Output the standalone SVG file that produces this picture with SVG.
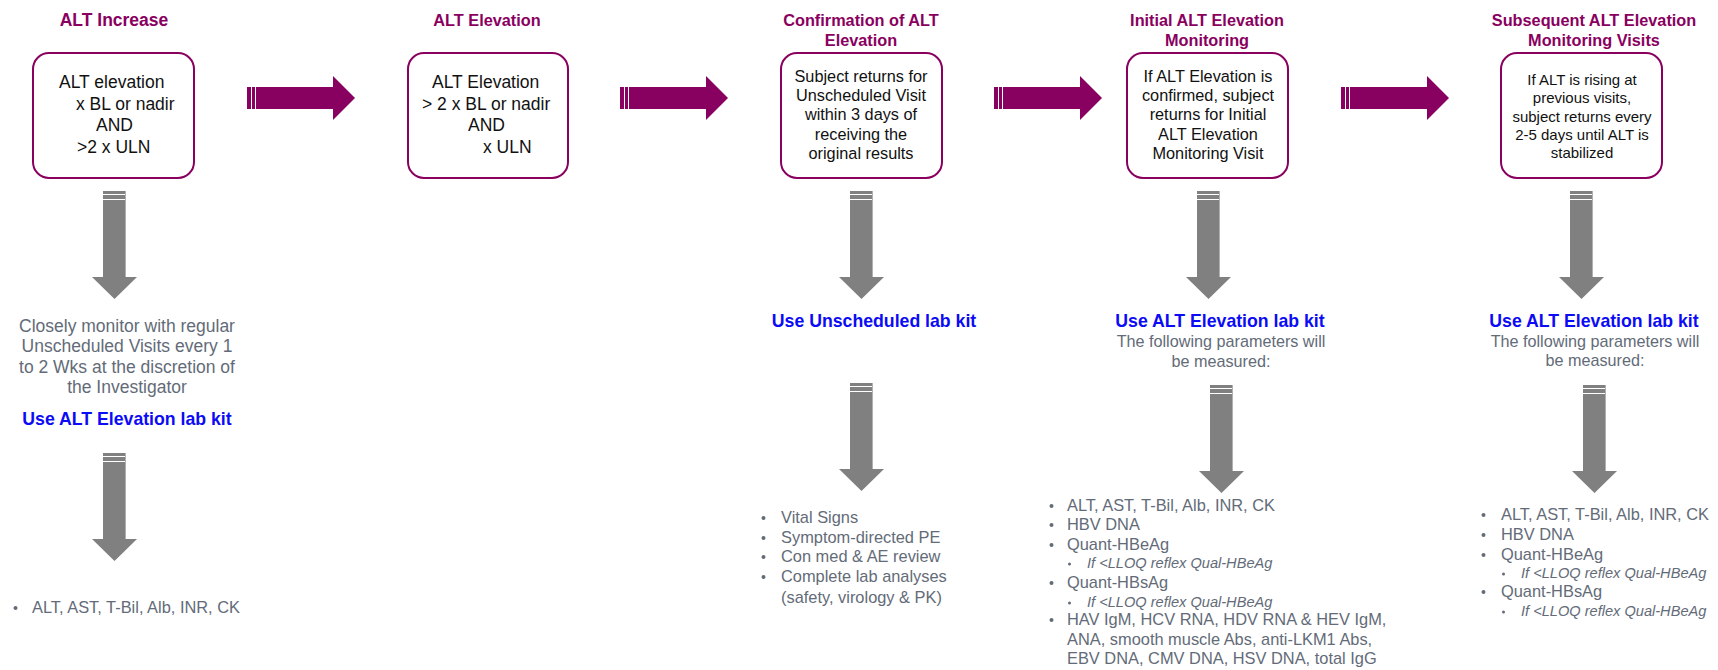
<svg xmlns="http://www.w3.org/2000/svg" width="1718" height="670" viewBox="0 0 1718 670">
<defs>
<style>
text{font-family:"Liberation Sans",Arial,sans-serif}
.title{font-size:16.3px;font-weight:bold;fill:#8a005f;text-anchor:middle}
.box{fill:#fff;stroke:#8a005f;stroke-width:2}
.bt{font-size:17.5px;fill:#111}
.bt3{font-size:16.3px;fill:#111;text-anchor:middle}
.bt5{font-size:15px;fill:#111;text-anchor:middle}
.blue{font-size:17.7px;font-weight:bold;fill:#0b0bf5;text-anchor:middle}
.gray{font-size:17.5px;fill:#636b78;text-anchor:middle}
.gray2{font-size:16.2px;fill:#636b78;text-anchor:middle}
.li{font-size:16.4px;fill:#636b78}
.sub{font-size:14.6px;font-style:italic;fill:#636b78}
.dot{fill:#636b78}
.ra{fill:#880060}
.da{fill:#808080}
.wl{stroke:#fff;stroke-width:1}
</style>
<g id="rarrow">
<polygon class="ra" points="0,11 86,11 86,0 108,22 86,44 86,33 0,33"/>
<line class="wl" x1="4.5" y1="11" x2="4.5" y2="33"/>
<line class="wl" x1="8.5" y1="11" x2="8.5" y2="33"/>
</g>
<g id="darrow">
<polygon class="da" points="-11.5,0 11.5,0 11.5,86 22.5,86 0,108 -22.5,86 -11.5,86"/>
<line class="wl" x1="-11.5" y1="3.5" x2="11.5" y2="3.5"/>
<line class="wl" x1="-11.5" y1="8.5" x2="11.5" y2="8.5"/>
<line x1="11" y1="0" x2="11" y2="86" stroke="#b0b0b0" stroke-width="1"/>
</g>
</defs>
<rect width="1718" height="670" fill="#fff"/>

<g id="connectors">
<use href="#rarrow" x="247" y="76"/>
<use href="#rarrow" x="620" y="76"/>
<use href="#rarrow" x="994" y="76"/>
<use href="#rarrow" x="1341" y="76"/>
<use href="#darrow" x="114.5" y="191"/>
<use href="#darrow" x="114.5" y="453"/>
<use href="#darrow" x="861.5" y="191"/>
<use href="#darrow" x="861.5" y="383"/>
<use href="#darrow" x="1208.5" y="191"/>
<use href="#darrow" x="1221.5" y="385"/>
<use href="#darrow" x="1581.5" y="191"/>
<use href="#darrow" x="1594.5" y="385"/>
</g>

<g id="node-alt-increase">
<text class="title" x="114" y="26" style="font-size:17.5px">ALT Increase</text>
<rect class="box" x="33" y="53" width="161" height="125" rx="16"/>
<text class="bt" x="59" y="88">ALT elevation</text>
<text class="bt" x="76" y="110">x BL or nadir</text>
<text class="bt" x="96" y="131">AND</text>
<text class="bt" x="77" y="153">&gt;2 x ULN</text>
</g>

<g id="node-alt-elevation">
<text class="title" x="487" y="26">ALT Elevation</text>
<rect class="box" x="408" y="53" width="160" height="125" rx="16"/>
<text class="bt" x="432" y="88">ALT Elevation</text>
<text class="bt" x="422" y="110">&gt; 2 x BL or nadir</text>
<text class="bt" x="468" y="131">AND</text>
<text class="bt" x="483" y="153">x ULN</text>
</g>

<g id="node-confirmation">
<text class="title" x="861" y="26">Confirmation of ALT</text>
<text class="title" x="861" y="46">Elevation</text>
<rect class="box" x="781" y="53" width="161" height="125" rx="16"/>
<text class="bt3" x="861" y="82">Subject returns for</text>
<text class="bt3" x="861" y="101">Unscheduled Visit</text>
<text class="bt3" x="861" y="120">within 3 days of</text>
<text class="bt3" x="861" y="140">receiving the</text>
<text class="bt3" x="861" y="159">original results</text>
</g>

<g id="node-initial-monitoring">
<text class="title" x="1207" y="26">Initial ALT Elevation</text>
<text class="title" x="1207" y="46">Monitoring</text>
<rect class="box" x="1127" y="53" width="161" height="125" rx="16"/>
<text class="bt3" x="1208" y="82">If ALT Elevation is</text>
<text class="bt3" x="1208" y="101">confirmed, subject</text>
<text class="bt3" x="1208" y="120">returns for Initial</text>
<text class="bt3" x="1208" y="140">ALT Elevation</text>
<text class="bt3" x="1208" y="159">Monitoring Visit</text>
</g>

<g id="node-subsequent-monitoring">
<text class="title" x="1594" y="26">Subsequent ALT Elevation</text>
<text class="title" x="1594" y="46">Monitoring Visits</text>
<rect class="box" x="1501" y="53" width="161" height="125" rx="16"/>
<text class="bt5" x="1582" y="85">If ALT is rising at</text>
<text class="bt5" x="1582" y="103">previous visits,</text>
<text class="bt5" x="1582" y="122">subject returns every</text>
<text class="bt5" x="1582" y="140">2-5 days until ALT is</text>
<text class="bt5" x="1582" y="158">stabilized</text>
</g>

<g id="node-col1-monitor">
<text class="gray" x="127" y="332">Closely monitor with regular</text>
<text class="gray" x="127" y="352">Unscheduled Visits every 1</text>
<text class="gray" x="127" y="373">to 2 Wks at the discretion of</text>
<text class="gray" x="127" y="393">the Investigator</text>
<text class="blue" x="127" y="425">Use ALT Elevation lab kit</text>
</g>

<g id="node-col1-list">
<circle class="dot" cx="15.5" cy="608" r="2"/>
<text class="li" x="32" y="613">ALT, AST, T-Bil, Alb, INR, CK</text>
</g>

<g id="node-col3-kit">
<text class="blue" x="874" y="327">Use Unscheduled lab kit</text>
</g>

<g id="node-col3-list">
<circle class="dot" cx="763.5" cy="518" r="2"/>
<text class="li" x="781" y="523">Vital Signs</text>
<circle class="dot" cx="763.5" cy="538" r="2"/>
<text class="li" x="781" y="543">Symptom-directed PE</text>
<circle class="dot" cx="763.5" cy="557" r="2"/>
<text class="li" x="781" y="562">Con med &amp; AE review</text>
<circle class="dot" cx="763.5" cy="577" r="2"/>
<text class="li" x="781" y="582">Complete lab analyses</text>
<text class="li" x="781" y="603">(safety, virology &amp; PK)</text>
</g>

<g id="node-col4-kit">
<text class="blue" x="1220" y="327">Use ALT Elevation lab kit</text>
<text class="gray2" x="1221" y="347">The following parameters will</text>
<text class="gray2" x="1221" y="367">be measured:</text>
</g>

<g id="node-col4-list">
<circle class="dot" cx="1051.5" cy="506" r="2"/>
<text class="li" x="1067" y="511">ALT, AST, T-Bil, Alb, INR, CK</text>
<circle class="dot" cx="1051.5" cy="525" r="2"/>
<text class="li" x="1067" y="530">HBV DNA</text>
<circle class="dot" cx="1051.5" cy="545" r="2"/>
<text class="li" x="1067" y="550">Quant-HBeAg</text>
<circle class="dot" cx="1069.5" cy="564" r="1.5"/>
<text class="sub" x="1087" y="568">If &lt;LLOQ reflex Qual-HBeAg</text>
<circle class="dot" cx="1051.5" cy="583" r="2"/>
<text class="li" x="1067" y="588">Quant-HBsAg</text>
<circle class="dot" cx="1069.5" cy="603" r="1.5"/>
<text class="sub" x="1087" y="607">If &lt;LLOQ reflex Qual-HBeAg</text>
<circle class="dot" cx="1051.5" cy="620" r="2"/>
<text class="li" x="1067" y="625">HAV IgM, HCV RNA, HDV RNA &amp; HEV IgM,</text>
<text class="li" x="1067" y="645">ANA, smooth muscle Abs, anti-LKM1 Abs,</text>
<text class="li" x="1067" y="664">EBV DNA, CMV DNA, HSV DNA, total IgG</text>
</g>

<g id="node-col5-kit">
<text class="blue" x="1594" y="327">Use ALT Elevation lab kit</text>
<text class="gray2" x="1595" y="347">The following parameters will</text>
<text class="gray2" x="1595" y="366">be measured:</text>
</g>

<g id="node-col5-list">
<circle class="dot" cx="1483.5" cy="515" r="2"/>
<text class="li" x="1501" y="520">ALT, AST, T-Bil, Alb, INR, CK</text>
<circle class="dot" cx="1483.5" cy="535" r="2"/>
<text class="li" x="1501" y="540">HBV DNA</text>
<circle class="dot" cx="1483.5" cy="555" r="2"/>
<text class="li" x="1501" y="560">Quant-HBeAg</text>
<circle class="dot" cx="1503.5" cy="574" r="1.5"/>
<text class="sub" x="1521" y="578">If &lt;LLOQ reflex Qual-HBeAg</text>
<circle class="dot" cx="1483.5" cy="592" r="2"/>
<text class="li" x="1501" y="597">Quant-HBsAg</text>
<circle class="dot" cx="1503.5" cy="612" r="1.5"/>
<text class="sub" x="1521" y="616">If &lt;LLOQ reflex Qual-HBeAg</text>
</g>
</svg>
